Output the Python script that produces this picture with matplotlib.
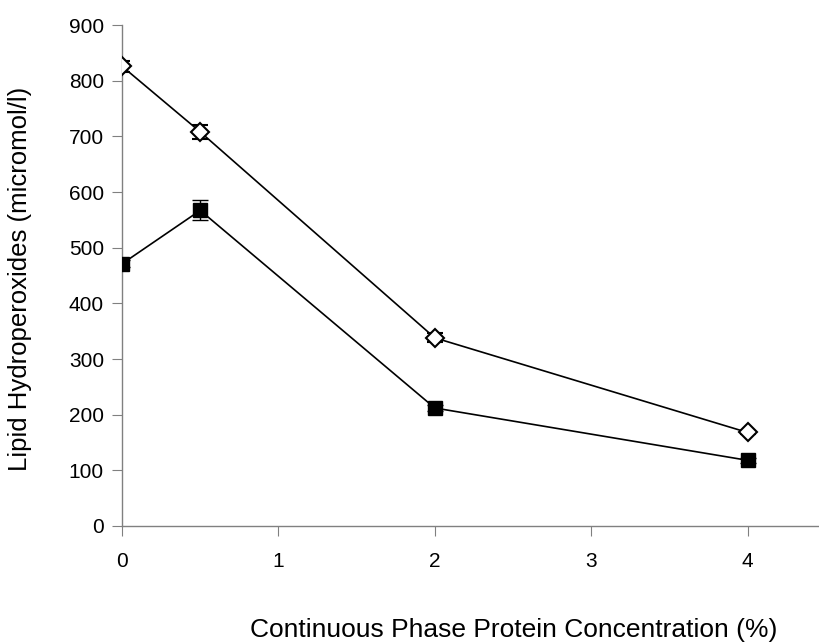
import numpy as np
import matplotlib
matplotlib.use('Agg')
import matplotlib.pyplot as plt

plt.rcParams['font.family'] = ['Liberation Sans', 'DejaVu Sans']

# Protein concentration (%)
conc = [0, 0.5, 2, 4]

# Lipid hydroperoxides (micromol/l), two series
open_vals = [826, 708, 338, 168]
open_err = [10, 13, 8, 3]
filled_vals = [471, 567, 212, 118]
filled_err = [6, 18, 6, 5]

yticks = [0, 100, 200, 300, 400, 500, 600, 700, 800, 900]
xticks = [0, 1, 2, 3, 4]

fig = plt.figure(figsize=(8.2, 6.42), dpi=100)
ax = fig.add_axes([0.1488, 0.1807, 1.007 - 0.1488, 0.961 - 0.1807])

# Open diamonds
ax.errorbar(conc, open_vals, yerr=open_err, color='black', lw=1.2,
            marker='D', markersize=9, markerfacecolor='white',
            markeredgecolor='black', markeredgewidth=1.5,
            capsize=6, elinewidth=1, capthick=1, zorder=3)

# Filled squares
ax.errorbar(conc, filled_vals, yerr=filled_err, color='black', lw=1.2,
            marker='s', markersize=10.5, markerfacecolor='black',
            markeredgecolor='black', capsize=6, elinewidth=1,
            capthick=1, zorder=3)

ax.set_xlim(0, 4.5)
ax.set_ylim(0, 900)
ax.set_xticks(xticks)
ax.set_yticks(yticks)

for s in ['top', 'right']:
    ax.spines[s].set_visible(False)
for s in ['left', 'bottom']:
    ax.spines[s].set_color('#808080')
    ax.spines[s].set_linewidth(1)

ax.tick_params(axis='both', direction='out', length=7, color='#808080',
               labelsize=15, pad=6)
ax.tick_params(axis='x', pad=12)

fig.text(0.024, 0.565, 'Lipid Hydroperoxides (micromol/l)', fontsize=18.5,
         rotation=90, ha='center', va='center')
fig.text(0.627, 0.019, 'Continuous Phase Protein Concentration (%)',
         fontsize=19, ha='center', va='center')

fig.savefig('out.png', dpi=100)
